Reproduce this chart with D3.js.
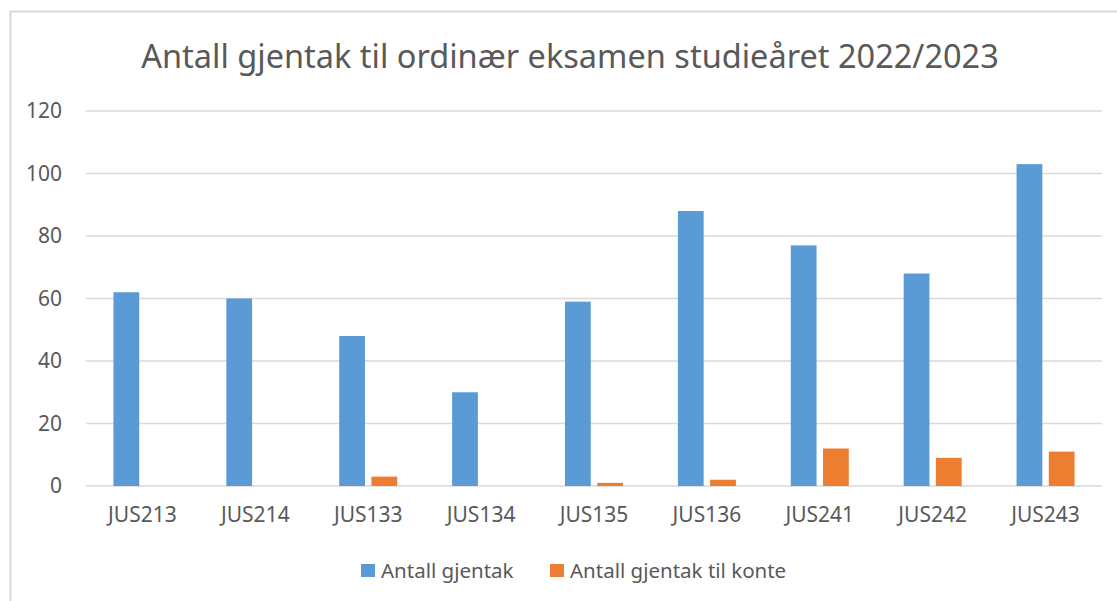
<!DOCTYPE html>
<html lang="no">
<head>
    <meta charset="UTF-8">
    <title>Antall gjentak</title>
    <style>
        body{ margin:0; background:#fff;}
        text{ font-family:"Noto Sans", "Open Sans", sans-serif; fill:#595959;}
    </style>
</head>
<body>

<script src="https://d3js.org/d3.v7.min.js"></script>
<script>

var emner = ["JUS213", "JUS214", "JUS133", "JUS134", "JUS135", "JUS136", "JUS241", "JUS242", "JUS243"];
var gjentak = [62, 60, 48, 30, 59, 88, 77, 68, 103];
var gjentakKonte = [0, 0, 3, 0, 1, 2, 12, 9, 11];
var serier = ["Antall gjentak", "Antall gjentak til konte"];
var farger = ["#5b9bd5", "#ed7d31"];
var yTicks = [0, 20, 40, 60, 80, 100, 120];

var W = 1117, H = 601;

var svg = d3.select("body").append("svg")
        .attr("width", W)
        .attr("height", H);

// chart frame (runs off the right/bottom edge like in the screenshot)
svg.append("rect")
        .attr("x", 10.5).attr("y", 11.5)
        .attr("width", W + 20).attr("height", H + 20)
        .attr("fill", "#fff")
        .attr("stroke", "#d9d9d9").attr("stroke-width", 2);

var x0 = d3.scaleBand().domain(emner).range([86, 1102]);
var x1 = d3.scaleBand().domain(serier)
        .range([x0.bandwidth()/2 - 29, x0.bandwidth()/2 + 29])
        .paddingInner(0.2);
var y = d3.scaleLinear().domain([0, 120]).range([486, 111]);

// gridlines
svg.append("g")
        .selectAll("line")
        .data(yTicks)
        .enter().append("line")
        .attr("x1", 86).attr("x2", 1102)
        .attr("y1", function(d){ return y(d); })
        .attr("y2", function(d){ return y(d); })
        .attr("stroke", "#d9d9d9").attr("stroke-width", 1.5);

// y axis labels
var yAxis = d3.axisLeft(y).tickValues(yTicks).tickSize(0).tickPadding(0);
var gy = svg.append("g").attr("transform", "translate(62,0)").call(yAxis);
gy.select(".domain").remove();
gy.selectAll("text").style("font-size", "21px").attr("fill", "#595959");

// x axis labels
var xAxis = d3.axisBottom(x0).tickSize(0).tickPadding(0);
var gx = svg.append("g").attr("transform", "translate(0,507)").call(xAxis);
gx.select(".domain").remove();
gx.selectAll("text").style("font-size", "21px").attr("fill", "#595959").attr("dy", "0.71em");

// bars
var rader = emner.map(function(e, i){
    return { emne: e, verdier: [
        { serie: serier[0], v: gjentak[i] },
        { serie: serier[1], v: gjentakKonte[i] }
    ]};
});

var grupper = svg.append("g").selectAll("g")
        .data(rader)
        .enter().append("g")
        .attr("transform", function(d){ return "translate(" + x0(d.emne) + ",0)"; });

grupper.selectAll("rect")
        .data(function(d){ return d.verdier; })
        .enter().append("rect")
        .attr("x", function(d){ return x1(d.serie); })
        .attr("width", x1.bandwidth())
        .attr("y", function(d){ return y(d.v); })
        .attr("height", function(d){ return y(0) - y(d.v); })
        .attr("fill", function(d, i){ return farger[i]; });

// title
svg.append("text")
        .attr("x", 570).attr("y", 68)
        .attr("text-anchor", "middle")
        .style("font-size", "32.5px")
        .text("Antall gjentak til ordinær eksamen studieåret 2022/2023");

// legend
var legendX = [361, 550];
var legend = svg.append("g").selectAll("g")
        .data(serier)
        .enter().append("g")
        .attr("transform", function(d, i){ return "translate(" + legendX[i] + ",564)"; });

legend.append("rect")
        .attr("width", 14).attr("height", 13)
        .attr("fill", function(d, i){ return farger[i]; });

legend.append("text")
        .attr("x", 20).attr("y", 6.5).attr("dy", "0.35em")
        .style("font-size", "20.5px")
        .text(function(d){ return d; });

</script>

</body>
</html>
